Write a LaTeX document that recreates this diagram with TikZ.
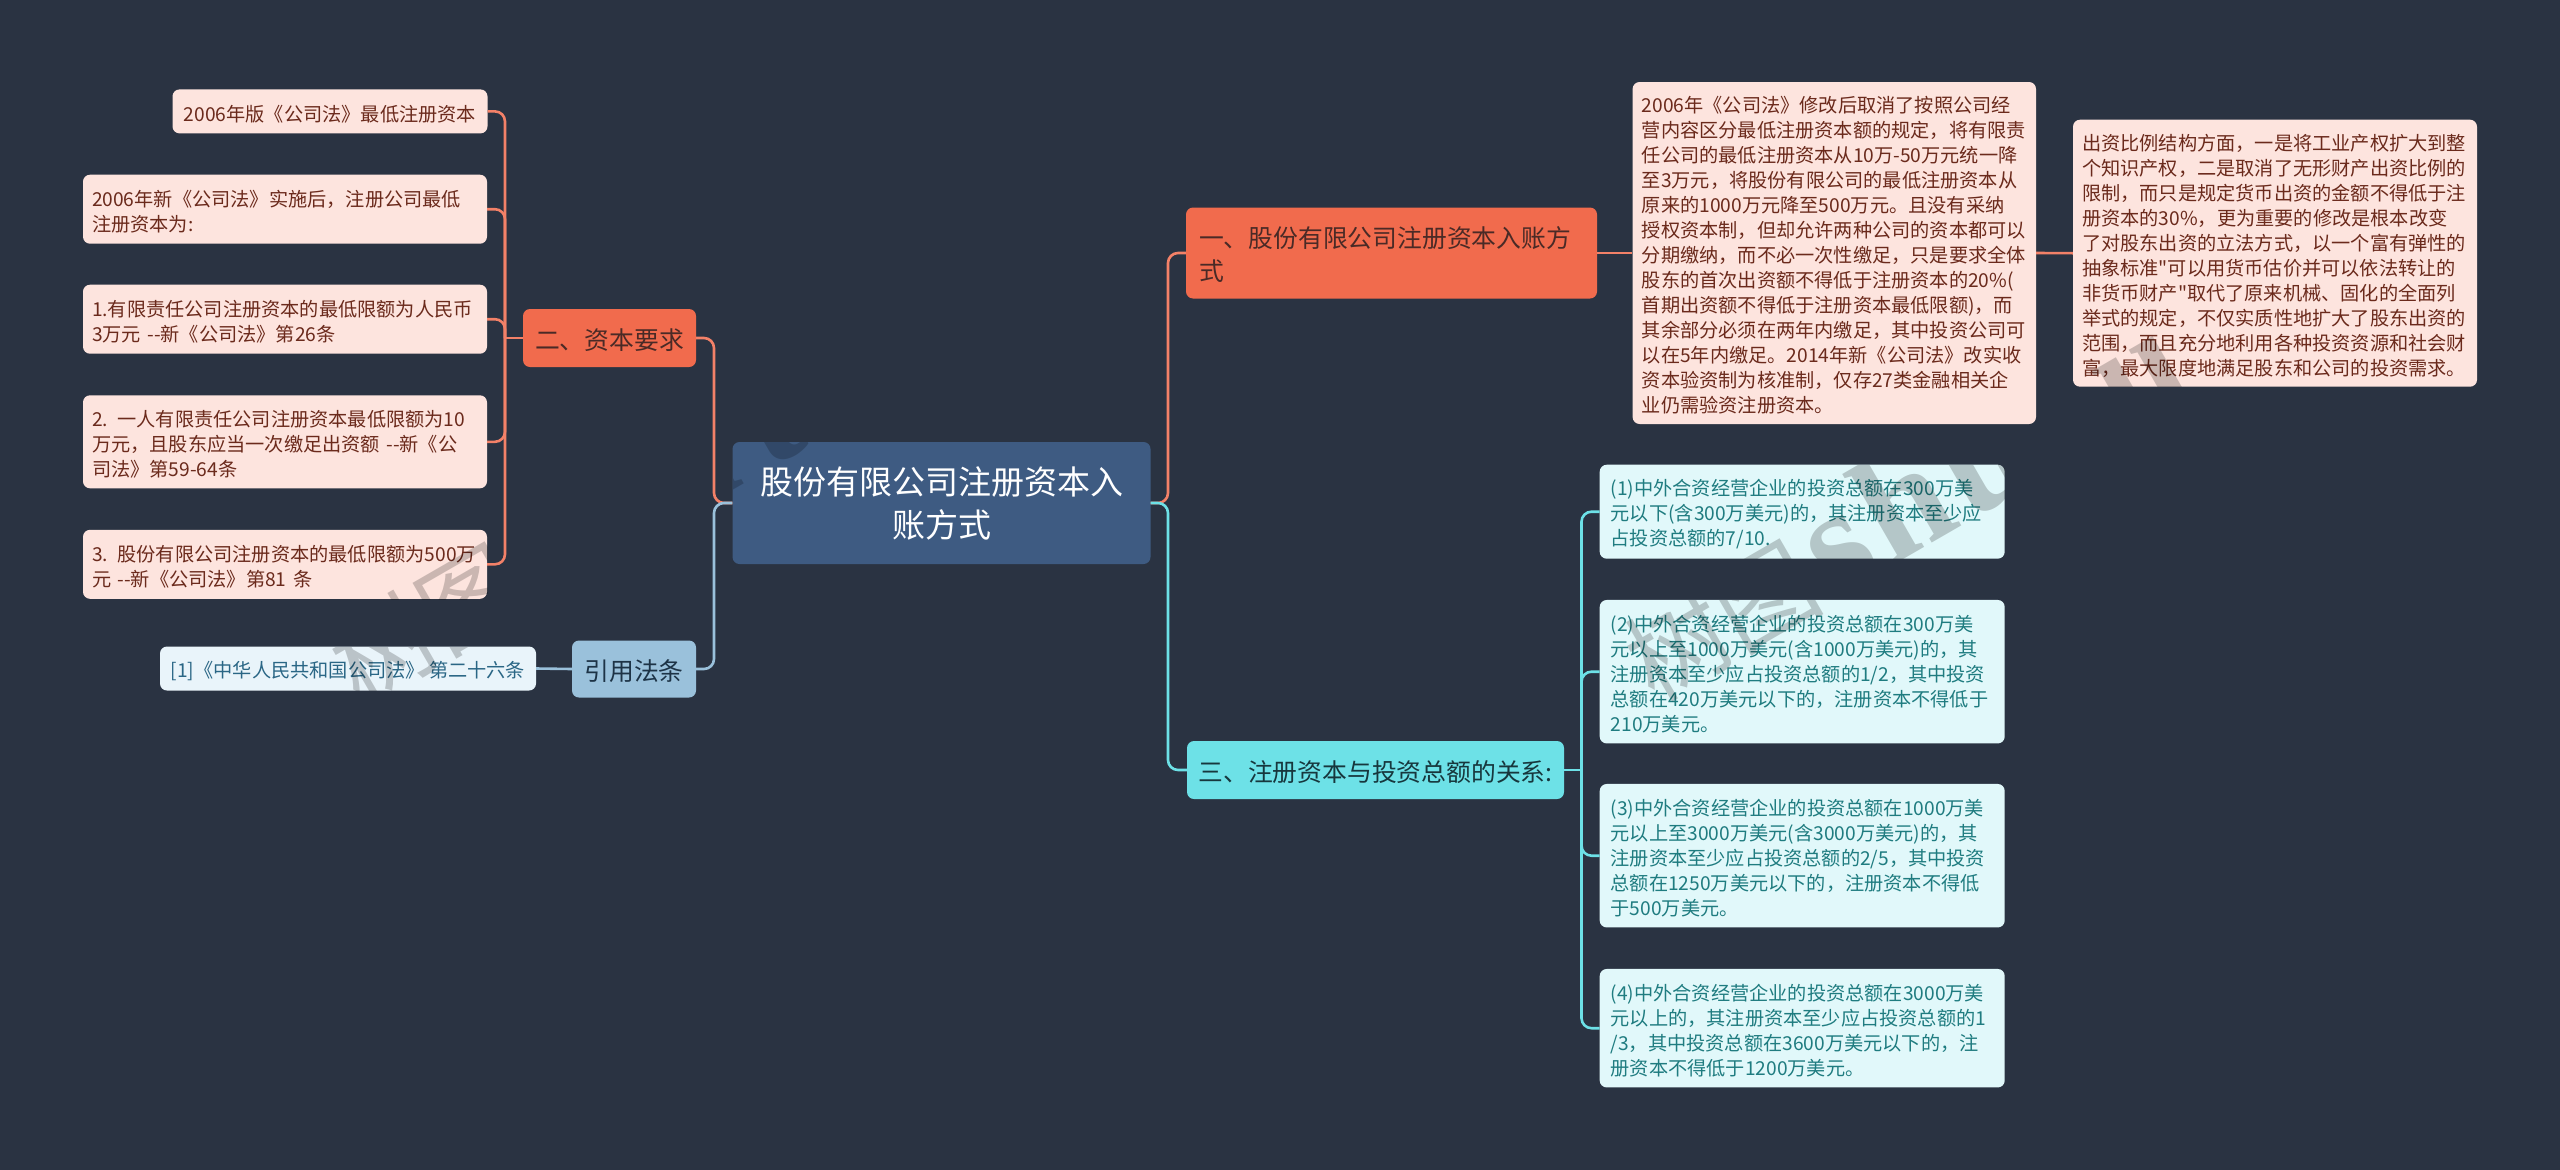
\documentclass[tikz,border=0pt]{standalone}
\usepackage{fontspec}
\setmainfont{Noto Sans CJK SC}
\newfontfamily\wmserif{Liberation Serif}
\newfontfamily\plainq{Noto Sans CJK SC}
\newcommand{\dq}{{\plainq"}}
\definecolor{bgc}{HTML}{2A3342}
\definecolor{rootc}{HTML}{3E5B82}
\definecolor{orc}{HTML}{F16B4D}
\definecolor{orl}{HTML}{FDE4DE}
\definecolor{ort}{HTML}{6B2A1C}
\definecolor{orb}{HTML}{4A2A26}
\definecolor{cyc}{HTML}{6DE1E7}
\definecolor{cyl}{HTML}{E1F8FA}
\definecolor{cyt}{HTML}{1F7C80}
\definecolor{cyb}{HTML}{17373D}
\definecolor{blc}{HTML}{9AC1DB}
\definecolor{bll}{HTML}{E9F4FA}
\definecolor{blt}{HTML}{2A6685}
\definecolor{blb}{HTML}{1D3346}
\tikzset{
  box/.style={rectangle,rounded corners=7pt,inner sep=0pt,align=left},
  rootbox/.style={box,fill=rootc,text=white,align=center,font=\fontsize{33}{43}\selectfont},
  branchfont/.style={box,font=\fontsize{24.8}{33}\selectfont,execute at begin node={\rule{0pt}{25pt}}},
  orbranch/.style={branchfont,fill=orc,text=orb},
  cybranch/.style={branchfont,fill=cyc,text=cyb},
  blbranch/.style={branchfont,fill=blc,text=blb},
  leaffont/.style={box,font=\fontsize{19.2}{25}\selectfont,execute at begin node={\rule{0pt}{21pt}}},
  orleaf/.style={leaffont,fill=orl,text=ort},
  cyleaf/.style={leaffont,fill=cyl,text=cyt},
  blleaf/.style={leaffont,fill=bll,text=blt},
  orlink/.style={draw=orc!85!white,line width=2.6pt,rounded corners=10pt},
  cylink/.style={draw=cyc,line width=2.6pt,rounded corners=10pt},
  bllink/.style={draw=blc,line width=2.6pt,rounded corners=10pt},
  wmark/.style={text=black,text opacity=0.2,rotate=30,anchor=west,inner sep=0pt,font=\fontsize{100}{100}\selectfont}
}
\newcommand{\wmtext}{树图\hspace{8pt}{\wmserif\bfseries\fontsize{150}{150}\selectfont s\hspace{8pt}h\hspace{8pt}u\hspace{22pt}t\hspace{22pt}u}}
\begin{document}
\begin{tikzpicture}[x=1pt,y=-1pt]
\useasboundingbox (0,0) rectangle (2560,1170);
\fill[bgc] (0,0) rectangle (2560,1170);

\coordinate (jl) at (714,503);
\coordinate (jr) at (1168,503);
\coordinate (jt) at (1581.5,770);
\coordinate (ja) at (505,338);

% nodes
\node[rootbox,minimum width=418pt,minimum height=122pt] (root) at (941.5,503) {股份有限公司注册资本入\\账方式};

\node[orbranch,minimum width=173pt,minimum height=58pt] (two) at (609.5,338) {二、资本要求};
\node[blbranch,minimum width=124pt,minimum height=57pt] (cite) at (634,669) {引用法条};
\node[orbranch,minimum width=411pt,minimum height=91pt,text width=385pt] (one) at (1391.5,253) {一、股份有限公司注册资本入账方\\式};
\node[cybranch,minimum width=377pt,minimum height=58pt] (three) at (1375.5,770) {三、注册资本与投资总额的关系:};

\node[orleaf,minimum width=315pt,minimum height=44pt] (a1) at (330,111.4) {2006年版《公司法》最低注册资本};
\node[orleaf,minimum width=404pt,minimum height=69pt,text width=386pt] (a2) at (285,209.2) {2006年新《公司法》实施后，注册公司最低\\注册资本为:};
\node[orleaf,minimum width=404pt,minimum height=69pt,text width=386pt] (a3) at (285,319.2) {1.有限责任公司注册资本的最低限额为人民币\\3万元 {-}{-}新《公司法》第26条};
\node[orleaf,minimum width=404pt,minimum height=93pt,text width=386pt] (a4) at (285,441.8) {2. 一人有限责任公司注册资本最低限额为10\\万元，且股东应当一次缴足出资额 {-}{-}新《公\\司法》第59-64条};
\node[orleaf,minimum width=404pt,minimum height=69pt,text width=386pt] (a5) at (285,564.3) {3. 股份有限公司注册资本的最低限额为500万\\元 {-}{-}新《公司法》第81 条};
\node[blleaf,minimum width=376pt,minimum height=44pt] (ref) at (348,668.5) {[1]《中华人民共和国公司法》 第二十六条};

\node[orleaf,minimum width=403.4pt,minimum height=342pt,text width=385pt] (b1) at (1834.3,253) {2006年《公司法》修改后取消了按照公司经\\营内容区分最低注册资本额的规定，将有限责\\任公司的最低注册资本从10万-50万元统一降\\至3万元，将股份有限公司的最低注册资本从\\原来的1000万元降至500万元。且没有采纳\\授权资本制，但却允许两种公司的资本都可以\\分期缴纳，而不必一次性缴足，只是要求全体\\股东的首次出资额不得低于注册资本的20\%(\\首期出资额不得低于注册资本最低限额)，而\\其余部分必须在两年内缴足，其中投资公司可\\以在5年内缴足。2014年新《公司法》改实收\\资本验资制为核准制，仅存27类金融相关企\\业仍需验资注册资本。};
\node[orleaf,minimum width=404pt,minimum height=267pt,text width=386pt] (b2) at (2275,253.2) {出资比例结构方面，一是将工业产权扩大到整\\个知识产权，二是取消了无形财产出资比例的\\限制，而只是规定货币出资的金额不得低于注\\册资本的30\%，更为重要的修改是根本改变\\了对股东出资的立法方式，以一个富有弹性的\\抽象标准\dq 可以用货币估价并可以依法转让的\\非货币财产\dq 取代了原来机械、固化的全面列\\举式的规定，不仅实质性地扩大了股东出资的\\范围，而且充分地利用各种投资资源和社会财\\富，最大限度地满足股东和公司的投资需求。};

\node[cyleaf,minimum width=405pt,minimum height=94pt,text width=383pt] (c1) at (1802.2,511.7) {(1)中外合资经营企业的投资总额在300万美\\元以下(含300万美元)的，其注册资本至少应\\占投资总额的7/10.};
\node[cyleaf,minimum width=405pt,minimum height=143.5pt,text width=383pt] (c2) at (1802.2,671.7) {(2)中外合资经营企业的投资总额在300万美\\元以上至1000万美元(含1000万美元)的，其\\注册资本至少应占投资总额的1/2，其中投资\\总额在420万美元以下的，注册资本不得低于\\210万美元。};
\node[cyleaf,minimum width=405pt,minimum height=143.5pt,text width=383pt] (c3) at (1802.2,855.7) {(3)中外合资经营企业的投资总额在1000万美\\元以上至3000万美元(含3000万美元)的，其\\注册资本至少应占投资总额的2/5，其中投资\\总额在1250万美元以下的，注册资本不得低\\于500万美元。};
\node[cyleaf,minimum width=405pt,minimum height=118.5pt,text width=383pt] (c4) at (1802.2,1028.2) {(4)中外合资经营企业的投资总额在3000万美\\元以上的，其注册资本至少应占投资总额的1\\/3，其中投资总额在3600万美元以下的，注\\册资本不得低于1200万美元。};

% connectors
\draw[orlink] (root.west) -- (jl) -- (jl |- two.east) -- (two.east);
\draw[bllink] (root.west) -- (jl) -- (jl |- cite.east) -- (cite.east);
\draw[orlink] (root.east) -- (jr) -- (jr |- one.west) -- (one.west);
\draw[cylink] (root.east) -- (jr) -- (jr |- three.west) -- (three.west);
\draw[orlink] (two.west) -- (ja);
\draw[orlink] (a1.east) -- (ja |- a1.east) -- (ja);
\draw[orlink] (a2.east) -- (ja |- a2.east) -- (ja);
\draw[orlink] (a3.east) -- (ja |- a3.east) -- (ja);
\draw[orlink] (a4.east) -- (ja |- a4.east) -- (ja);
\draw[orlink] (a5.east) -- (ja |- a5.east) -- (ja);
\draw[bllink] (cite.west) -- (ref.east);
\draw[orlink] (one.east) -- (b1.west);
\draw[orlink] (b1.east) -- (b2.west);
\draw[cylink] (three.east) -- (jt);
\draw[cylink] (c1.west) -- (jt |- c1.west) -- (jt);
\draw[cylink] (c2.west) -- (jt |- c2.west) -- (jt);
\draw[cylink] (c3.west) -- (jt |- c3.west) -- (jt);
\draw[cylink] (c4.west) -- (jt |- c4.west) -- (jt);

% watermark: seen only where it crosses the pale boxes
\begin{scope}
\clip[rounded corners=7pt]
  (a5.south west) rectangle (a5.north east)
  (ref.south west) rectangle (ref.north east)
  (root.south west) rectangle (root.north east)
  (c1.south west) rectangle (c1.north east)
  (c2.south west) rectangle (c2.north east)
  (b2.south west) rectangle (b2.north east);
\node[wmark] (wm1) at (335,665) {\wmtext};
\node[wmark] (wm2) at (1630,662) {\wmtext};
\end{scope}
\end{tikzpicture}
\end{document}
